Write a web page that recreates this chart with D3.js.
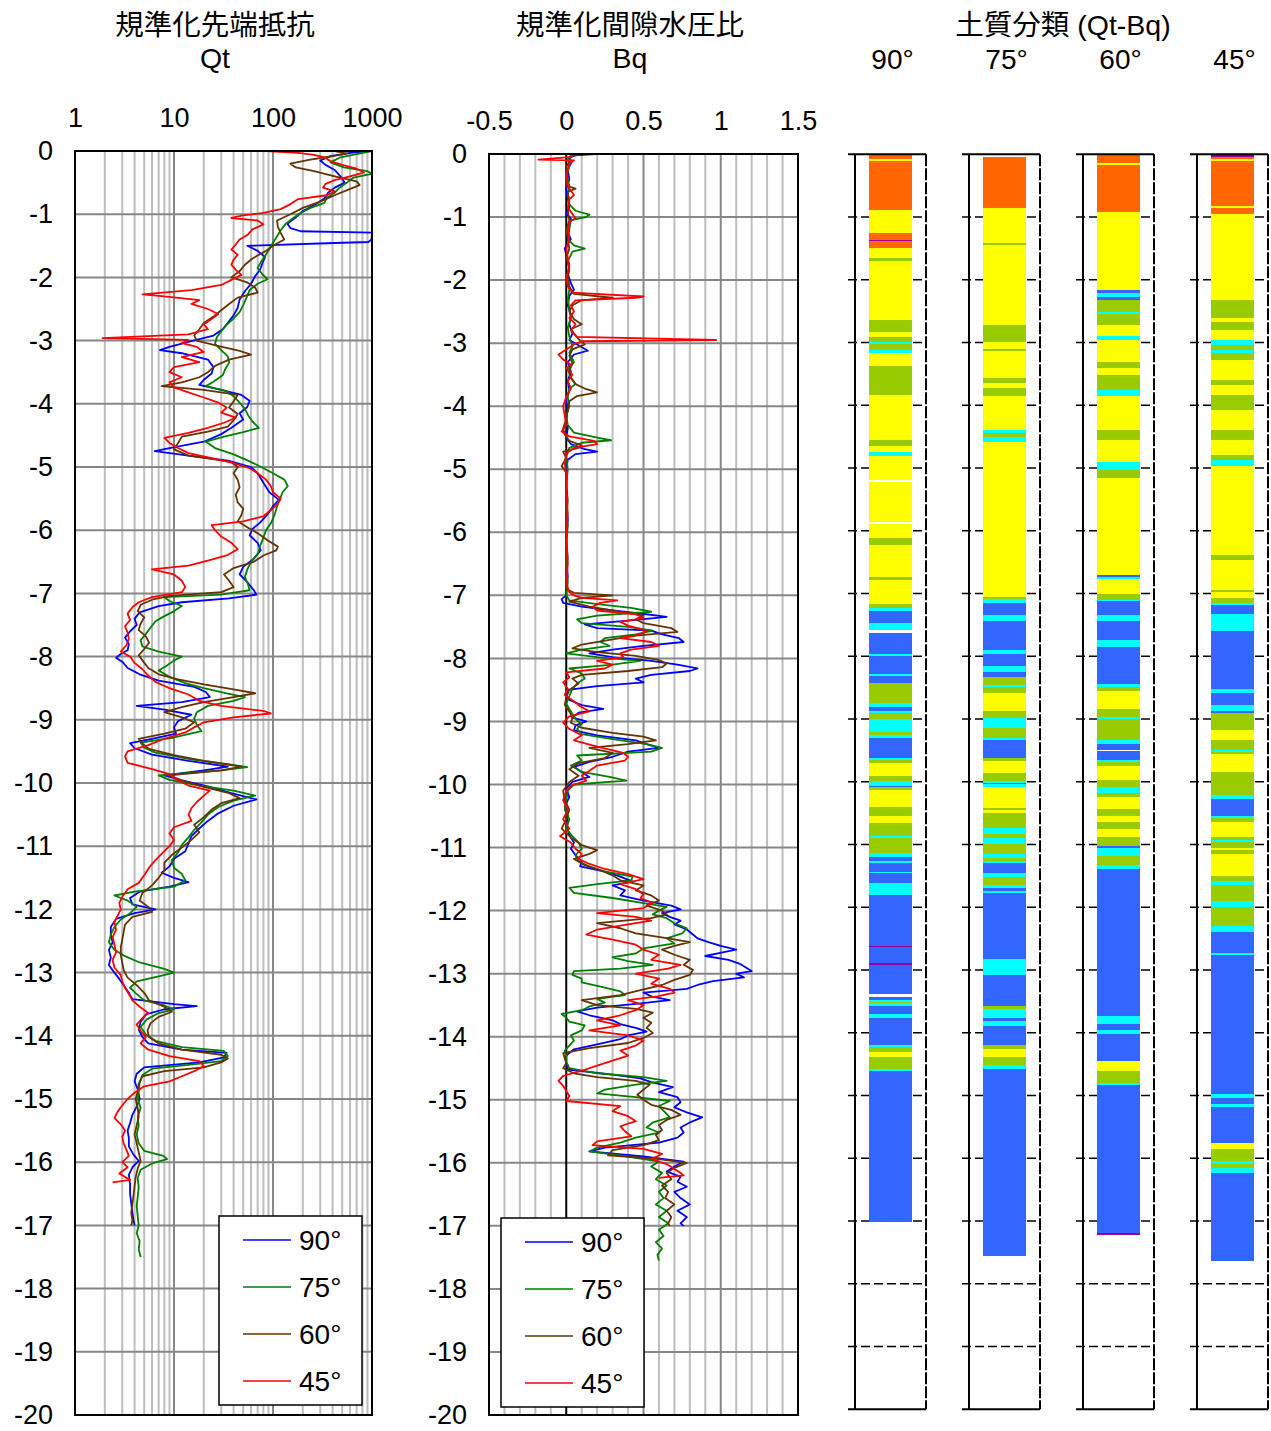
<!DOCTYPE html>
<html>
<head>
<meta charset="utf-8">
<script src="https://cdn.jsdelivr.net/npm/d3@7"></script>
<style>
  body { margin: 0; background: #fff; }
  text { font-family: "Liberation Sans", Arial, "Noto Sans CJK JP", sans-serif; fill: #000; }
</style>
</head>
<body>
<svg id="chart" width="1271" height="1431"></svg>
<script>
// ---- series ----
const seriesNames = ["90°", "75°", "60°", "45°"];
const seriesColors = ["#0000FF", "#008000", "#663300", "#FF0000"];

// depth (m, positive downward), normalized cone resistance Qt
const qt90 = [[0.00,950],[0.03,600],[0.08,380],[0.15,300],[0.22,340],[0.30,420],[0.40,480],[0.50,530],[0.58,420],[0.66,360],[0.75,330],[0.85,265],[0.95,200],[1.05,170],[1.15,140],[1.22,150],[1.27,190],[1.29,1000],[1.40,990],[1.44,920],[1.46,350],[1.50,55],[1.58,70],[1.68,83],[1.78,78],[1.88,74],[1.98,66],[2.10,60],[2.22,52],[2.35,46],[2.48,44],[2.60,40],[2.72,35],[2.82,31],[2.92,25],[3.02,14],[3.10,9],[3.15,7.2],[3.20,12],[3.30,22],[3.42,25],[3.52,24],[3.62,20],[3.70,18],[3.78,30],[3.86,48],[3.95,58],[4.05,55],[4.15,46],[4.25,50],[4.38,38],[4.48,30],[4.60,20],[4.70,9],[4.75,6.4],[4.82,14],[4.90,35],[5.00,60],[5.10,70],[5.25,80],[5.40,92],[5.52,115],[5.62,100],[5.75,88],[5.88,74],[5.98,62],[6.08,58],[6.20,70],[6.32,75],[6.45,64],[6.58,50],[6.70,46],[6.82,55],[6.95,64],[7.02,68],[7.08,36],[7.14,12],[7.20,7],[7.30,4.5],[7.40,4.0],[7.50,4.2],[7.60,3.6],[7.70,3.2],[7.80,3.5],[7.90,3.4],[7.96,2.9],[8.02,2.6],[8.08,3.0],[8.18,3.4],[8.28,4.5],[8.38,7],[8.48,16],[8.56,21],[8.64,23],[8.72,12],[8.78,4.2],[8.84,8],[8.92,15],[9.02,11],[9.12,10],[9.22,10.5],[9.30,6],[9.37,3.6],[9.45,4.0],[9.55,6],[9.65,14],[9.74,35],[9.80,20],[9.88,8],[9.96,12],[10.06,23],[10.16,38],[10.26,68],[10.36,40],[10.48,28],[10.60,22],[10.72,18],[10.84,15],[10.96,14],[11.08,13],[11.20,10],[11.32,9],[11.42,7.5],[11.50,10],[11.57,14],[11.64,9],[11.72,4.5],[11.82,3.6],[11.92,3.8],[12.00,6.5],[12.06,4],[12.15,2.6],[12.28,2.3],[12.40,2.3],[12.52,2.4],[12.64,2.2],[12.76,2.3],[12.88,2.2],[13.00,2.5],[13.10,2.8],[13.20,3.1],[13.32,3.5],[13.42,3.8],[13.50,10],[13.53,17],[13.58,8],[13.66,5.2],[13.78,4.6],[13.90,4.4],[14.02,4.8],[14.12,5.5],[14.22,12],[14.27,34],[14.34,32],[14.42,18],[14.50,5],[14.60,4.2],[14.72,4.0],[14.85,4.3],[15.00,4.5],[15.12,4.2],[15.25,3.8],[15.38,3.6],[15.50,3.4],[15.62,3.5],[15.75,3.5],[15.88,3.9],[15.98,4.4],[16.08,3.8],[16.20,3.5],[16.35,3.6],[16.50,3.6],[16.65,3.7],[16.80,3.8],[16.92,3.9],[17.00,4.0]];
const qt75 = [[0.00,1000],[0.05,700],[0.10,480],[0.18,380],[0.26,520],[0.32,900],[0.36,1000],[0.42,650],[0.50,560],[0.58,470],[0.66,420],[0.74,350],[0.82,330],[0.90,240],[0.98,190],[1.06,160],[1.15,135],[1.25,120],[1.35,110],[1.45,100],[1.55,92],[1.65,84],[1.75,76],[1.85,70],[1.95,78],[2.03,88],[2.10,70],[2.20,58],[2.32,54],[2.44,50],[2.55,46],[2.65,40],[2.75,34],[2.85,30],[2.95,27],[3.05,26],[3.15,30],[3.25,35],[3.35,36],[3.45,33],[3.55,31],[3.65,25],[3.72,21],[3.80,34],[3.88,40],[3.98,46],[4.08,52],[4.18,56],[4.28,62],[4.38,72],[4.45,50],[4.52,32],[4.60,21],[4.70,26],[4.80,40],[4.90,56],[5.00,76],[5.10,100],[5.20,130],[5.30,141],[5.40,125],[5.50,118],[5.62,110],[5.75,104],[5.88,96],[6.00,85],[6.12,80],[6.25,74],[6.38,70],[6.50,60],[6.62,55],[6.74,52],[6.86,56],[6.95,58],[7.02,30],[7.06,8],[7.12,9],[7.20,12],[7.28,10],[7.36,8],[7.44,6.5],[7.54,5.8],[7.64,5.2],[7.74,4.6],[7.84,4.8],[7.92,7],[8.00,12],[8.06,10],[8.14,8.5],[8.22,7],[8.32,9],[8.42,13],[8.50,20],[8.58,34],[8.64,52],[8.70,40],[8.78,22],[8.88,17],[8.98,16],[9.08,17],[9.18,19],[9.28,10],[9.36,4.6],[9.44,5],[9.52,6.5],[9.62,14],[9.70,35],[9.75,55],[9.80,30],[9.88,7],[9.95,9],[10.04,18],[10.12,40],[10.20,66],[10.28,40],[10.38,28],[10.50,22],[10.62,19],[10.74,16],[10.86,14],[10.98,12],[11.10,11],[11.22,9.5],[11.34,10],[11.44,12],[11.54,13],[11.64,10],[11.72,4],[11.78,2.5],[11.86,3.4],[11.96,4.2],[12.06,3.6],[12.16,2.9],[12.28,2.5],[12.40,2.3],[12.52,2.2],[12.64,2.5],[12.74,3.2],[12.84,4.5],[12.94,8],[13.00,10],[13.06,7],[13.14,4.2],[13.24,3.6],[13.34,4.2],[13.44,5],[13.52,8],[13.58,10],[13.64,7],[13.74,5.3],[13.86,4.6],[13.98,5.2],[14.08,6.5],[14.18,12],[14.24,32],[14.32,35],[14.40,30],[14.46,14],[14.52,6],[14.62,4.8],[14.74,4.5],[14.88,4.4],[15.00,4.3],[15.14,4.6],[15.28,4.3],[15.42,4.4],[15.56,4.2],[15.70,4.4],[15.82,5],[15.90,7.8],[15.95,8.5],[16.02,6],[16.12,4.6],[16.25,4.3],[16.40,4.4],[16.55,4.3],[16.70,4.2],[16.85,4.3],[17.00,4.4],[17.12,4.2],[17.25,4.5],[17.38,4.4],[17.50,4.6]];
const qt60 = [[0.00,420],[0.04,560],[0.08,400],[0.14,230],[0.20,150],[0.26,170],[0.32,260],[0.40,420],[0.48,700],[0.54,750],[0.62,560],[0.70,420],[0.80,300],[0.90,200],[1.00,150],[1.10,110],[1.20,112],[1.30,120],[1.40,130],[1.48,105],[1.58,85],[1.70,62],[1.80,52],[1.90,46],[2.00,38],[2.08,55],[2.16,66],[2.24,70],[2.32,44],[2.42,36],[2.52,30],[2.62,25],[2.72,20],[2.82,18],[2.92,16],[3.00,17],[3.08,27],[3.16,45],[3.22,60],[3.30,36],[3.40,26],[3.50,22],[3.58,18],[3.66,12],[3.72,7.5],[3.78,20],[3.86,44],[3.96,40],[4.06,36],[4.16,44],[4.26,40],[4.36,35],[4.44,22],[4.52,12],[4.62,11],[4.72,10],[4.82,14],[4.92,38],[5.00,44],[5.10,40],[5.20,44],[5.32,46],[5.44,42],[5.56,44],[5.66,50],[5.76,48],[5.86,44],[5.96,56],[6.06,72],[6.16,88],[6.26,112],[6.32,108],[6.40,80],[6.50,64],[6.60,40],[6.70,32],[6.80,36],[6.90,40],[6.98,30],[7.04,9],[7.10,6],[7.18,4.6],[7.28,4.3],[7.38,5],[7.48,4.6],[7.58,4.4],[7.68,5.2],[7.78,5.6],[7.88,5],[7.98,4.4],[8.08,4.9],[8.18,5.5],[8.28,7],[8.36,11],[8.44,20],[8.52,40],[8.58,66],[8.64,40],[8.72,20],[8.80,12],[8.88,8],[8.96,12],[9.04,16],[9.14,13],[9.22,8],[9.30,4.4],[9.38,4.8],[9.46,5.6],[9.56,10],[9.66,22],[9.74,48],[9.80,30],[9.88,9],[9.96,12],[10.06,20],[10.16,36],[10.24,46],[10.32,30],[10.42,24],[10.54,20],[10.66,16],[10.78,18],[10.90,15],[11.02,12],[11.14,9.5],[11.26,8],[11.38,8],[11.50,7],[11.62,6],[11.74,4.8],[11.86,4.5],[11.96,5.5],[12.04,6],[12.12,3.8],[12.24,3.2],[12.36,3.1],[12.48,3.0],[12.60,2.9],[12.72,2.9],[12.84,3.0],[12.96,3.1],[13.08,3.4],[13.20,4.2],[13.32,5],[13.44,5.6],[13.54,8],[13.62,9.5],[13.70,7],[13.80,5.8],[13.92,5.4],[14.02,5.6],[14.12,7],[14.22,12],[14.30,30],[14.36,35],[14.42,30],[14.50,20],[14.56,8],[14.64,4.8],[14.76,4.4],[14.88,4.3],[15.00,4.1],[15.14,4.3],[15.28,4.4],[15.42,4.2],[15.56,4.0],[15.70,4.2],[15.84,4.4],[15.98,4.6],[16.10,4.3],[16.24,4.1],[16.38,4.0],[16.52,3.9],[16.66,3.8],[16.80,3.7],[16.92,3.8],[17.00,3.7]];
const qt45 = [[0.00,85],[0.03,180],[0.06,260],[0.10,330],[0.16,380],[0.22,500],[0.28,700],[0.34,830],[0.40,600],[0.46,420],[0.52,340],[0.58,320],[0.64,420],[0.70,350],[0.76,180],[0.84,150],[0.92,120],[0.98,80],[1.02,50],[1.06,38],[1.10,70],[1.16,80],[1.24,62],[1.32,56],[1.40,46],[1.48,42],[1.56,38],[1.64,44],[1.72,40],[1.80,38],[1.88,42],[1.96,48],[2.04,38],[2.12,30],[2.20,15],[2.27,4.8],[2.30,8],[2.36,18],[2.42,15],[2.50,22],[2.58,28],[2.66,24],[2.74,20],[2.82,22],[2.90,14],[2.96,1.9],[2.99,14],[3.04,12],[3.10,17],[3.18,20],[3.26,12],[3.34,18],[3.42,10],[3.50,9],[3.58,12],[3.66,9],[3.74,10],[3.82,14],[3.90,20],[3.98,28],[4.06,34],[4.14,30],[4.22,42],[4.30,32],[4.38,22],[4.46,14],[4.54,8],[4.62,9],[4.70,11],[4.78,14],[4.86,24],[4.94,40],[5.02,58],[5.10,70],[5.20,85],[5.30,95],[5.40,100],[5.50,120],[5.60,110],[5.70,92],[5.78,80],[5.86,50],[5.92,24],[6.00,26],[6.10,30],[6.20,38],[6.30,44],[6.40,34],[6.48,22],[6.56,14],[6.62,6],[6.70,10],[6.80,12],[6.90,13],[6.98,12],[7.06,6],[7.14,4.4],[7.22,3.8],[7.32,3.4],[7.42,3.6],[7.52,3.2],[7.62,3.4],[7.72,3.5],[7.82,3.3],[7.92,2.9],[8.00,3.6],[8.10,4],[8.20,4.8],[8.30,5.5],[8.40,6.5],[8.50,9],[8.60,14],[8.70,18],[8.78,30],[8.86,80],[8.90,95],[8.96,40],[9.04,20],[9.12,16],[9.20,13],[9.30,8],[9.40,5.5],[9.50,3.4],[9.58,3.2],[9.68,3.4],[9.78,6],[9.86,9],[9.96,11],[10.04,14],[10.12,23],[10.20,20],[10.30,17],[10.40,15],[10.50,14],[10.60,15],[10.70,10],[10.80,9],[10.90,10],[11.00,9],[11.12,7.5],[11.22,6.5],[11.34,5.6],[11.46,5],[11.58,4.4],[11.68,3.4],[11.80,3.0],[11.90,2.8],[12.00,2.9],[12.10,2.7],[12.20,2.5],[12.32,2.6],[12.44,2.4],[12.56,2.5],[12.68,2.6],[12.80,2.4],[12.92,2.5],[13.04,2.9],[13.14,3.0],[13.24,3.2],[13.34,3.5],[13.44,3.8],[13.54,4.5],[13.64,5.5],[13.72,4.8],[13.82,4.2],[13.92,4.6],[14.02,5.2],[14.12,4.6],[14.22,5.5],[14.32,9],[14.40,18],[14.48,20],[14.56,16],[14.64,12],[14.72,9],[14.80,5],[14.90,4],[15.00,3.4],[15.10,3.0],[15.20,2.7],[15.30,2.5],[15.40,2.9],[15.50,3.2],[15.60,3.0],[15.70,3.1],[15.80,3.3],[15.90,3.5],[16.00,3.0],[16.08,3.4],[16.18,2.8],[16.28,3.6],[16.32,2.4]];

// depth (m), pore pressure ratio Bq
const bq90 = [[0.00,0.19],[0.02,0.06],[0.06,0.02],[0.15,0.03],[0.25,0.01],[0.40,0.02],[0.55,0.0],[0.70,0.01],[0.85,0.02],[0.95,0.0],[1.02,0.03],[1.10,0.02],[1.25,0.01],[1.35,0.03],[1.50,-0.01],[1.60,0.0],[1.75,0.02],[1.90,0.01],[2.05,0.03],[2.15,0.05],[2.25,0.02],[2.40,0.01],[2.55,0.03],[2.70,0.02],[2.85,0.04],[2.95,0.02],[3.05,0.09],[3.12,0.14],[3.18,0.05],[3.30,0.01],[3.45,0.03],[3.60,0.01],[3.75,0.02],[3.90,0.0],[4.05,0.01],[4.20,0.0],[4.35,0.01],[4.50,0.0],[4.60,0.03],[4.68,0.12],[4.72,0.2],[4.76,0.06],[4.85,0.01],[5.00,0.0],[5.20,0.0],[5.50,0.0],[5.80,0.01],[6.10,0.0],[6.40,0.0],[6.70,0.01],[6.90,0.0],[7.00,0.0],[7.06,-0.03],[7.12,-0.02],[7.18,0.1],[7.24,0.3],[7.30,0.52],[7.34,0.65],[7.40,0.4],[7.46,0.12],[7.52,0.2],[7.56,0.55],[7.62,0.62],[7.68,0.73],[7.74,0.76],[7.80,0.5],[7.86,0.3],[7.92,0.15],[7.98,0.3],[8.04,0.55],[8.10,0.72],[8.16,0.85],[8.20,0.8],[8.26,0.55],[8.32,0.45],[8.38,0.5],[8.44,0.2],[8.50,0.01],[8.58,0.0],[8.66,0.02],[8.74,0.1],[8.80,0.24],[8.86,0.08],[8.94,0.04],[9.00,0.13],[9.06,0.06],[9.14,0.05],[9.22,0.2],[9.30,0.45],[9.36,0.52],[9.42,0.6],[9.48,0.4],[9.56,0.3],[9.64,0.15],[9.72,0.05],[9.80,0.1],[9.88,0.15],[9.96,0.04],[10.06,0.0],[10.20,0.02],[10.35,-0.01],[10.50,0.01],[10.65,0.0],[10.80,0.02],[10.92,0.05],[11.02,0.03],[11.12,0.06],[11.22,0.1],[11.30,0.09],[11.38,0.25],[11.46,0.35],[11.54,0.43],[11.60,0.3],[11.68,0.38],[11.76,0.35],[11.84,0.5],[11.92,0.68],[11.98,0.74],[12.04,0.62],[12.10,0.67],[12.16,0.74],[12.22,0.7],[12.30,0.78],[12.38,0.82],[12.44,0.85],[12.50,0.92],[12.56,1.0],[12.62,1.1],[12.66,1.02],[12.72,0.9],[12.78,1.05],[12.84,1.12],[12.90,1.16],[12.96,1.2],[13.00,1.1],[13.06,1.15],[13.12,0.95],[13.18,0.85],[13.24,0.78],[13.30,0.5],[13.36,0.55],[13.42,0.67],[13.48,0.45],[13.54,0.2],[13.60,0.07],[13.66,0.15],[13.74,0.3],[13.80,0.35],[13.86,0.45],[13.92,0.52],[13.98,0.4],[14.04,0.35],[14.12,0.2],[14.20,0.05],[14.30,0.0],[14.40,0.0],[14.52,0.01],[14.60,0.3],[14.66,0.48],[14.72,0.55],[14.80,0.69],[14.88,0.6],[14.96,0.72],[15.04,0.74],[15.12,0.7],[15.20,0.78],[15.28,0.88],[15.36,0.8],[15.44,0.74],[15.52,0.76],[15.60,0.72],[15.68,0.6],[15.76,0.25],[15.82,0.15],[15.90,0.5],[15.98,0.76],[16.06,0.7],[16.14,0.65],[16.22,0.74],[16.30,0.72],[16.38,0.78],[16.46,0.7],[16.56,0.74],[16.66,0.8],[16.76,0.72],[16.86,0.78],[16.96,0.74],[17.00,0.76]];
const bq75 = [[0.00,0.1],[0.03,0.04],[0.08,0.01],[0.20,0.02],[0.35,0.0],[0.50,0.02],[0.65,0.01],[0.80,0.02],[0.90,0.06],[0.96,0.15],[1.00,0.13],[1.05,0.03],[1.20,0.02],[1.35,0.01],[1.45,0.05],[1.50,0.12],[1.55,0.04],[1.70,0.01],[1.85,0.02],[2.00,0.0],[2.15,0.02],[2.30,0.01],[2.45,0.02],[2.60,0.03],[2.75,0.01],[2.90,0.02],[3.05,0.04],[3.15,0.02],[3.30,0.05],[3.42,0.01],[3.55,0.03],[3.65,0.06],[3.72,0.02],[3.85,0.01],[4.00,0.02],[4.15,0.0],[4.30,0.01],[4.42,0.05],[4.50,0.2],[4.54,0.29],[4.58,0.1],[4.66,0.02],[4.80,0.0],[5.00,0.01],[5.30,0.0],[5.60,0.0],[5.90,0.01],[6.20,0.0],[6.50,0.0],[6.80,0.01],[7.00,0.0],[7.08,0.02],[7.14,0.2],[7.20,0.42],[7.26,0.55],[7.32,0.2],[7.38,0.07],[7.44,0.1],[7.50,0.4],[7.56,0.56],[7.62,0.45],[7.68,0.25],[7.74,0.22],[7.80,0.28],[7.86,0.1],[7.92,0.0],[7.98,0.2],[8.04,0.48],[8.10,0.3],[8.16,0.02],[8.24,0.1],[8.32,0.12],[8.40,0.07],[8.48,0.04],[8.60,0.02],[8.72,0.0],[8.84,0.03],[8.96,0.06],[9.04,0.1],[9.12,0.07],[9.20,0.1],[9.28,0.3],[9.36,0.52],[9.42,0.62],[9.48,0.55],[9.54,0.07],[9.62,0.1],[9.70,0.03],[9.80,0.1],[9.88,0.28],[9.94,0.39],[10.00,0.05],[10.10,0.01],[10.25,0.0],[10.40,-0.01],[10.55,0.02],[10.70,0.0],[10.82,0.04],[10.92,0.08],[11.02,0.1],[11.12,0.06],[11.22,0.08],[11.30,0.15],[11.38,0.25],[11.46,0.43],[11.52,0.42],[11.58,0.2],[11.64,0.02],[11.72,0.05],[11.80,0.3],[11.88,0.5],[11.94,0.65],[12.00,0.6],[12.06,0.56],[12.12,0.65],[12.20,0.7],[12.28,0.78],[12.36,0.75],[12.44,0.65],[12.52,0.7],[12.60,0.5],[12.68,0.45],[12.74,0.3],[12.80,0.4],[12.86,0.56],[12.92,0.35],[12.96,0.05],[13.02,0.04],[13.08,0.1],[13.14,0.1],[13.22,0.25],[13.28,0.35],[13.34,0.38],[13.40,0.2],[13.46,0.25],[13.52,0.15],[13.58,0.1],[13.64,-0.03],[13.70,0.0],[13.76,0.02],[13.82,0.12],[13.90,0.1],[13.98,0.03],[14.06,0.05],[14.14,0.02],[14.22,-0.01],[14.30,0.0],[14.40,0.0],[14.50,0.02],[14.58,0.2],[14.64,0.5],[14.70,0.65],[14.76,0.45],[14.84,0.25],[14.90,0.2],[14.96,0.45],[15.02,0.67],[15.10,0.6],[15.20,0.64],[15.28,0.67],[15.36,0.56],[15.44,0.52],[15.52,0.6],[15.60,0.45],[15.68,0.35],[15.76,0.2],[15.82,0.15],[15.90,0.4],[15.98,0.6],[16.06,0.55],[16.16,0.62],[16.26,0.58],[16.36,0.65],[16.46,0.6],[16.56,0.63],[16.66,0.58],[16.76,0.65],[16.86,0.6],[16.96,0.66],[17.06,0.6],[17.16,0.63],[17.26,0.58],[17.36,0.62],[17.46,0.59],[17.55,0.6]];
const bq60 = [[0.00,0.08],[0.04,0.02],[0.10,0.03],[0.20,0.0],[0.35,0.01],[0.50,0.0],[0.55,0.06],[0.60,0.01],[0.75,0.02],[0.90,0.01],[1.05,0.02],[1.20,0.0],[1.35,0.01],[1.50,0.02],[1.65,0.0],[1.80,0.02],[1.95,0.01],[2.10,0.02],[2.22,0.05],[2.28,0.3],[2.32,0.1],[2.40,0.04],[2.50,0.02],[2.62,0.05],[2.70,0.1],[2.78,0.03],[2.88,0.06],[2.96,0.09],[3.02,0.12],[3.10,0.04],[3.20,0.02],[3.32,0.04],[3.44,0.02],[3.55,0.03],[3.65,0.06],[3.72,0.12],[3.78,0.2],[3.84,0.07],[3.92,0.02],[4.05,0.01],[4.20,0.0],[4.35,-0.02],[4.45,-0.01],[4.55,0.02],[4.62,0.1],[4.66,0.08],[4.72,-0.02],[4.82,0.0],[4.95,-0.03],[5.05,0.0],[5.20,0.0],[5.50,0.01],[5.80,0.0],[6.10,0.0],[6.40,0.01],[6.70,0.0],[6.90,0.0],[6.96,0.05],[7.00,0.3],[7.04,0.1],[7.10,0.02],[7.18,0.15],[7.24,0.3],[7.32,0.5],[7.38,0.45],[7.44,0.5],[7.52,0.68],[7.58,0.72],[7.64,0.45],[7.70,0.3],[7.78,0.1],[7.84,0.04],[7.90,0.2],[7.96,0.45],[8.02,0.59],[8.08,0.65],[8.14,0.62],[8.20,0.4],[8.26,0.1],[8.32,0.04],[8.40,0.08],[8.50,0.02],[8.62,0.0],[8.74,-0.01],[8.84,0.02],[8.94,0.04],[9.02,0.03],[9.10,0.1],[9.18,0.3],[9.24,0.5],[9.30,0.58],[9.36,0.4],[9.42,0.15],[9.50,0.3],[9.58,0.25],[9.66,0.08],[9.76,0.02],[9.86,0.08],[9.96,0.02],[10.10,-0.02],[10.25,-0.01],[10.40,0.02],[10.55,0.0],[10.70,-0.03],[10.84,0.03],[10.96,0.1],[11.04,0.2],[11.10,0.15],[11.18,0.05],[11.28,0.12],[11.36,0.22],[11.44,0.3],[11.52,0.35],[11.60,0.5],[11.68,0.45],[11.76,0.55],[11.84,0.6],[11.92,0.52],[12.00,0.62],[12.06,0.65],[12.12,0.55],[12.20,0.2],[12.28,0.35],[12.36,0.45],[12.44,0.66],[12.50,0.8],[12.56,0.7],[12.62,0.62],[12.70,0.7],[12.78,0.8],[12.86,0.76],[12.94,0.82],[13.02,0.8],[13.10,0.7],[13.18,0.62],[13.26,0.48],[13.34,0.35],[13.42,0.1],[13.50,0.2],[13.56,0.45],[13.62,0.56],[13.70,0.5],[13.78,0.55],[13.86,0.52],[13.94,0.56],[14.02,0.5],[14.10,0.4],[14.18,0.15],[14.26,-0.02],[14.34,-0.01],[14.42,0.0],[14.50,-0.02],[14.58,0.05],[14.64,0.2],[14.70,0.45],[14.76,0.54],[14.84,0.5],[14.92,0.46],[15.00,0.5],[15.08,0.55],[15.16,0.68],[15.24,0.74],[15.32,0.65],[15.40,0.6],[15.48,0.62],[15.56,0.58],[15.64,0.6],[15.72,0.5],[15.80,0.3],[15.88,0.27],[15.94,0.6],[16.00,0.78],[16.08,0.7],[16.16,0.65],[16.26,0.68],[16.36,0.62],[16.46,0.66],[16.56,0.64],[16.66,0.7],[16.76,0.65],[16.86,0.68],[16.96,0.66],[17.00,0.67]];
const bq45 = [[0.00,0.05],[0.05,0.02],[0.09,-0.18],[0.10,0.05],[0.16,0.02],[0.25,0.01],[0.40,0.0],[0.55,0.02],[0.65,0.05],[0.72,0.02],[0.85,0.01],[0.95,0.04],[1.02,0.06],[1.08,0.02],[1.20,0.01],[1.35,0.02],[1.50,0.0],[1.65,0.01],[1.80,0.02],[1.95,0.0],[2.10,0.01],[2.20,0.04],[2.26,0.5],[2.28,0.45],[2.32,0.06],[2.40,0.03],[2.50,0.05],[2.60,0.02],[2.70,0.06],[2.80,0.03],[2.90,0.07],[2.95,0.97],[2.97,0.1],[3.02,0.05],[3.10,0.0],[3.18,-0.05],[3.26,-0.02],[3.34,0.03],[3.40,0.0],[3.50,0.04],[3.60,0.01],[3.72,0.03],[3.85,0.0],[4.00,-0.02],[4.15,-0.01],[4.30,0.0],[4.40,-0.03],[4.48,0.02],[4.55,0.18],[4.60,0.2],[4.66,0.05],[4.75,0.0],[4.90,-0.01],[5.10,0.0],[5.40,0.0],[5.70,0.01],[6.00,0.0],[6.20,0.0],[6.50,0.01],[6.80,0.0],[6.95,0.02],[7.00,0.05],[7.04,0.1],[7.08,0.33],[7.12,0.22],[7.18,0.17],[7.24,0.2],[7.30,0.45],[7.36,0.5],[7.42,0.35],[7.48,0.4],[7.56,0.52],[7.62,0.48],[7.68,0.35],[7.74,0.55],[7.80,0.6],[7.86,0.42],[7.92,0.35],[7.98,0.37],[8.04,0.2],[8.10,0.3],[8.16,0.25],[8.22,0.0],[8.30,0.02],[8.38,-0.02],[8.48,0.01],[8.58,-0.01],[8.68,0.05],[8.76,0.09],[8.84,0.15],[8.92,0.02],[9.02,-0.02],[9.12,0.02],[9.22,0.1],[9.30,0.05],[9.40,0.2],[9.50,0.37],[9.56,0.4],[9.62,0.38],[9.70,0.2],[9.78,0.15],[9.86,0.1],[9.94,0.13],[10.02,0.03],[10.10,0.0],[10.25,-0.02],[10.40,0.01],[10.55,-0.02],[10.70,0.02],[10.82,-0.04],[10.92,0.03],[11.02,0.06],[11.10,0.1],[11.18,0.08],[11.26,0.15],[11.34,0.25],[11.42,0.4],[11.50,0.5],[11.58,0.35],[11.66,0.45],[11.74,0.5],[11.80,0.48],[11.88,0.56],[11.96,0.5],[12.04,0.2],[12.10,0.45],[12.16,0.55],[12.22,0.4],[12.30,0.2],[12.38,0.13],[12.46,0.3],[12.54,0.45],[12.62,0.5],[12.70,0.6],[12.78,0.55],[12.86,0.74],[12.92,0.66],[13.00,0.45],[13.08,0.6],[13.16,0.55],[13.24,0.67],[13.30,0.7],[13.36,0.59],[13.42,0.4],[13.50,0.5],[13.58,0.45],[13.66,0.35],[13.74,0.2],[13.82,0.35],[13.90,0.15],[13.98,0.4],[14.06,0.5],[14.14,0.45],[14.22,0.35],[14.30,0.4],[14.38,0.3],[14.46,0.2],[14.54,0.1],[14.62,-0.02],[14.70,-0.05],[14.78,-0.02],[14.86,0.0],[14.94,0.02],[15.02,0.0],[15.10,0.35],[15.18,0.3],[15.26,0.4],[15.34,0.45],[15.42,0.35],[15.50,0.38],[15.58,0.42],[15.66,0.2],[15.72,0.17],[15.78,0.5],[15.86,0.62],[15.94,0.55],[16.02,0.65],[16.10,0.7],[16.16,0.74],[16.20,0.76],[16.24,0.6]];

// soil classification bands: [top depth, bottom depth, zone]
const soil90 = [[0.00,0.02,2],[0.02,0.08,7],[0.08,0.11,6],[0.11,0.89,7],[0.89,1.26,6],[1.26,1.37,7],[1.37,1.39,2],[1.39,1.49,7],[1.49,1.65,6],[1.65,1.70,5],[1.70,2.64,6],[2.64,2.83,5],[2.83,2.91,6],[2.91,2.99,5],[2.99,3.02,4],[3.02,3.12,5],[3.12,3.17,4],[3.17,3.37,6],[3.37,3.84,5],[3.84,4.55,6],[4.55,4.65,5],[4.65,4.75,6],[4.75,4.81,4],[4.81,5.19,6],[5.22,5.86,6],[5.89,6.11,6],[6.11,6.22,5],[6.22,6.74,6],[6.74,6.79,5],[6.79,7.17,6],[7.17,7.23,5],[7.23,7.28,4],[7.28,7.47,3],[7.47,7.58,4],[7.63,7.96,3],[7.96,8.00,4],[8.00,8.28,3],[8.28,8.31,4],[8.31,8.43,3],[8.43,8.75,5],[8.75,8.81,4],[8.81,8.87,3],[8.87,8.90,4],[8.90,9.00,5],[9.00,9.21,4],[9.21,9.26,5],[9.26,9.30,4],[9.30,9.62,3],[9.62,9.65,4],[9.65,9.70,5],[9.70,9.91,6],[9.91,9.99,5],[9.99,10.07,4],[10.07,10.08,3],[10.08,10.13,5],[10.13,10.40,6],[10.40,10.55,5],[10.55,10.66,6],[10.66,10.86,5],[10.86,10.90,4],[10.90,11.14,5],[11.14,11.20,4],[11.20,11.27,3],[11.27,11.30,4],[11.30,11.44,3],[11.44,11.46,4],[11.46,11.61,3],[11.61,11.80,4],[11.80,12.62,3],[12.62,12.64,2],[12.64,12.89,3],[12.89,12.92,2],[12.92,13.38,3],[13.43,13.48,3],[13.48,13.51,4],[13.51,13.53,5],[13.53,13.57,4],[13.57,13.70,3],[13.70,13.76,4],[13.76,14.20,3],[14.20,14.23,4],[14.23,14.30,5],[14.30,14.39,6],[14.39,14.58,5],[14.58,14.61,4],[14.61,17.02,3]];
const soil75 = [[0.04,0.86,7],[0.86,1.42,6],[1.42,1.45,5],[1.45,2.72,6],[2.72,2.99,5],[2.99,3.10,6],[3.10,3.14,5],[3.14,3.56,6],[3.56,3.65,5],[3.65,3.73,6],[3.73,3.85,5],[3.85,4.40,6],[4.40,4.44,4],[4.44,4.51,5],[4.51,4.59,4],[4.59,7.06,6],[7.06,7.09,5],[7.09,7.15,4],[7.15,7.34,3],[7.34,7.44,4],[7.44,7.90,3],[7.90,7.96,4],[7.96,8.16,3],[8.16,8.25,4],[8.25,8.33,3],[8.33,8.46,5],[8.46,8.49,4],[8.49,8.58,5],[8.58,8.87,6],[8.87,8.98,5],[8.98,9.14,4],[9.14,9.30,5],[9.30,9.33,4],[9.33,9.62,3],[9.62,9.67,5],[9.67,9.86,6],[9.86,9.99,5],[9.99,10.02,4],[10.02,10.04,3],[10.04,10.08,4],[10.08,10.42,6],[10.42,10.45,5],[10.45,10.50,6],[10.50,10.74,5],[10.74,10.83,4],[10.83,10.90,5],[10.90,10.99,4],[10.99,11.15,5],[11.15,11.22,4],[11.22,11.26,5],[11.26,11.30,4],[11.30,11.46,3],[11.46,11.52,4],[11.52,11.65,5],[11.65,11.69,4],[11.69,11.74,3],[11.74,11.77,4],[11.77,12.83,3],[12.83,13.08,4],[13.08,13.57,3],[13.57,13.62,5],[13.62,13.77,4],[13.77,13.81,3],[13.81,13.89,4],[13.89,14.20,3],[14.20,14.26,5],[14.26,14.39,6],[14.39,14.51,5],[14.51,14.58,4],[14.58,17.56,3]];
const soil60 = [[0.00,0.14,7],[0.14,0.17,6],[0.17,0.92,7],[0.92,2.16,6],[2.16,2.21,3],[2.21,2.28,4],[2.28,2.32,3],[2.32,2.51,5],[2.51,2.55,4],[2.55,2.72,5],[2.72,2.90,6],[2.90,2.96,4],[2.96,3.31,6],[3.31,3.41,5],[3.41,3.52,6],[3.52,3.76,5],[3.76,3.86,4],[3.86,4.40,6],[4.40,4.56,5],[4.56,4.90,6],[4.90,5.03,4],[5.03,5.16,5],[5.16,6.70,6],[6.70,6.73,3],[6.73,6.77,4],[6.77,7.01,6],[7.01,7.10,5],[7.10,7.12,4],[7.12,7.34,3],[7.34,7.44,4],[7.44,7.74,3],[7.74,7.85,4],[7.85,8.44,3],[8.44,8.49,4],[8.49,8.55,5],[8.55,8.84,6],[8.84,8.97,5],[8.97,9.00,4],[9.00,9.33,5],[9.33,9.40,4],[9.40,9.49,3],[9.51,9.65,3],[9.65,9.69,4],[9.69,9.75,5],[9.75,9.97,6],[9.97,10.08,5],[10.08,10.18,4],[10.18,10.24,5],[10.24,10.43,6],[10.43,10.55,5],[10.55,10.64,6],[10.64,10.75,5],[10.75,10.88,6],[10.88,11.02,5],[11.02,11.06,3],[11.06,11.18,4],[11.18,11.33,5],[11.33,11.39,4],[11.39,13.73,3],[13.73,13.86,4],[13.86,13.96,3],[13.96,14.02,4],[14.02,14.45,3],[14.45,14.61,6],[14.61,14.80,5],[14.80,14.83,4],[14.83,17.19,3],[17.19,17.22,2]];
const soil45 = [[0.00,0.02,7],[0.02,0.04,2],[0.04,0.08,7],[0.08,0.11,6],[0.11,0.83,7],[0.83,0.86,6],[0.86,0.95,7],[0.95,2.32,6],[2.32,2.61,5],[2.61,2.67,6],[2.67,2.80,5],[2.80,2.96,6],[2.96,3.04,4],[3.04,3.12,5],[3.12,3.17,4],[3.17,3.28,5],[3.28,3.60,6],[3.60,3.68,5],[3.68,3.84,6],[3.84,4.08,5],[4.08,4.40,6],[4.40,4.56,5],[4.56,4.79,6],[4.79,4.87,5],[4.87,4.97,4],[4.97,6.39,6],[6.39,6.47,5],[6.47,6.94,6],[6.94,6.98,5],[6.98,7.07,6],[7.07,7.15,5],[7.15,7.18,4],[7.18,7.33,3],[7.33,7.60,4],[7.60,8.52,3],[8.52,8.59,4],[8.59,8.78,3],[8.78,8.87,4],[8.87,8.90,3],[8.90,9.17,5],[9.17,9.33,6],[9.33,9.49,5],[9.49,9.53,4],[9.53,9.56,5],[9.56,9.84,6],[9.84,10.21,5],[10.21,10.27,4],[10.27,10.54,3],[10.54,10.58,4],[10.58,10.64,5],[10.64,10.88,6],[10.88,10.93,5],[10.93,10.96,4],[10.96,11.05,5],[11.05,11.09,6],[11.09,11.15,5],[11.15,11.50,6],[11.50,11.58,5],[11.58,11.65,4],[11.65,11.90,5],[11.90,12.00,4],[12.00,12.30,5],[12.30,12.39,4],[12.39,12.73,3],[12.73,12.76,4],[12.76,14.98,3],[14.98,15.04,4],[15.04,15.14,3],[15.14,15.19,4],[15.19,15.76,3],[15.76,15.86,6],[15.86,16.04,5],[16.04,16.09,4],[16.09,16.16,5],[16.16,16.23,4],[16.23,17.64,3]];

// zone colours of the Qt-Bq classification
const zoneColors = { 2: "#990099", 3: "#3366FF", 4: "#00FFFF", 5: "#99CC00", 6: "#FFFF00", 7: "#FF6600" };

const qtTickValues = [1, 10, 100, 1000];
const bqTickValues = [-0.5, 0, 0.5, 1, 1.5];
const depthTicks = d3.range(0, 21);

const qtSeries = [qt90, qt75, qt60, qt45];
const bqSeries = [bq90, bq75, bq60, bq45];
const soilSeries = [soil90, soil75, soil60, soil45];

// ---- drawing ----
const svg = d3.select("#chart");
const fmtDepth = d => d === 0 ? "0" : "-" + d;
const MINOR = "#BEBEBE", MAJOR = "#878787";
const GRID_W = 2, LINE_W = 1.8;

function depthAxis(g, y, x0) {
  g.attr("transform", `translate(${x0},0)`)
    .call(d3.axisLeft(y).tickValues(depthTicks).tickFormat(fmtDepth).tickSize(0).tickPadding(22))
    .call(s => s.select(".domain").remove())
    .selectAll("text").attr("font-size", 27).attr("font-family", null);
}

function title(lines, cx) {
  const t = svg.append("g").attr("font-size", 28.5).attr("text-anchor", "middle");
  t.append("text").attr("x", cx).attr("y", 35).text(lines[0]);
  t.append("text").attr("x", cx).attr("y", 68).text(lines[1]);
}

function legend(x0, y0) {
  const g = svg.append("g");
  g.append("rect").attr("x", x0).attr("y", y0).attr("width", 143).attr("height", 189)
    .attr("fill", "#fff").attr("stroke", "#000").attr("stroke-width", 1.5);
  seriesNames.forEach((n, i) => {
    const yy = y0 + 24 + i * 47;
    g.append("line").attr("x1", x0 + 24).attr("x2", x0 + 72).attr("y1", yy).attr("y2", yy)
      .attr("stroke", seriesColors[i]).attr("stroke-width", 1.5);
    g.append("text").attr("x", x0 + 80).attr("y", yy + 10).attr("font-size", 28).text(n);
  });
}

const line = (x, y) => d3.line().x(d => x(d[1])).y(d => y(d[0]));

// ===== Qt panel =====
{
  const x = d3.scaleLog().domain([1, 1000]).range([75, 372]);
  const y = d3.scaleLinear().domain([0, 20]).range([151, 1415]);
  const g = svg.append("g");
  const minor = x.ticks().filter(v => !qtTickValues.includes(v));
  g.selectAll(".vmin").data(minor).join("line")
    .attr("x1", d => x(d)).attr("x2", d => x(d)).attr("y1", y(0)).attr("y2", y(20))
    .attr("stroke", MINOR).attr("stroke-width", GRID_W);
  g.selectAll(".vmaj").data([10, 100]).join("line")
    .attr("x1", d => x(d)).attr("x2", d => x(d)).attr("y1", y(0)).attr("y2", y(20))
    .attr("stroke", MAJOR).attr("stroke-width", GRID_W);
  g.selectAll(".hg").data(depthTicks).join("line")
    .attr("x1", x(1)).attr("x2", x(1000)).attr("y1", d => y(d)).attr("y2", d => y(d))
    .attr("stroke", MAJOR).attr("stroke-width", GRID_W);

  svg.append("clipPath").attr("id", "clipQt").append("rect")
    .attr("x", x(1)).attr("y", y(0)).attr("width", x(1000) - x(1)).attr("height", y(20) - y(0));
  const lg = svg.append("g").attr("clip-path", "url(#clipQt)");
  qtSeries.forEach((s, i) => lg.append("path").attr("d", line(x, y)(s))
    .attr("fill", "none").attr("stroke", seriesColors[i]).attr("stroke-width", LINE_W).attr("stroke-linejoin", "round"));

  svg.append("rect").attr("x", x(1)).attr("y", y(0)).attr("width", x(1000) - x(1)).attr("height", y(20) - y(0))
    .attr("fill", "none").attr("stroke", "#000").attr("stroke-width", 2);

  svg.append("g").attr("transform", `translate(0,${y(0)})`)
    .call(d3.axisTop(x).tickValues(qtTickValues).tickFormat(d3.format("d")).tickSize(0).tickPadding(24))
    .call(s => s.select(".domain").remove())
    .selectAll("text").attr("font-size", 27).attr("font-family", null);
  svg.append("g").call(g2 => depthAxis(g2, y, 75));

  title(["規準化先端抵抗", "Qt"], 215);
  legend(219, 1216);
}

// ===== Bq panel =====
{
  const x = d3.scaleLinear().domain([-0.5, 1.5]).range([489, 798]);
  const y = d3.scaleLinear().domain([0, 20]).range([154, 1415]);
  const g = svg.append("g");
  const vals = d3.range(-4, 15).map(k => k / 10);
  g.selectAll(".vmin").data(vals.filter(v => Math.abs(v * 2 - Math.round(v * 2)) > 1e-6)).join("line")
    .attr("x1", d => x(d)).attr("x2", d => x(d)).attr("y1", y(0)).attr("y2", y(20))
    .attr("stroke", MINOR).attr("stroke-width", GRID_W);
  g.selectAll(".vmaj").data([0.5, 1.0]).join("line")
    .attr("x1", d => x(d)).attr("x2", d => x(d)).attr("y1", y(0)).attr("y2", y(20))
    .attr("stroke", MAJOR).attr("stroke-width", GRID_W);
  g.selectAll(".hg").data(depthTicks).join("line")
    .attr("x1", x(-0.5)).attr("x2", x(1.5)).attr("y1", d => y(d)).attr("y2", d => y(d))
    .attr("stroke", MAJOR).attr("stroke-width", GRID_W);
  g.append("line").attr("x1", x(0)).attr("x2", x(0)).attr("y1", y(0)).attr("y2", y(20))
    .attr("stroke", "#000").attr("stroke-width", 2);

  svg.append("clipPath").attr("id", "clipBq").append("rect")
    .attr("x", x(-0.5)).attr("y", y(0)).attr("width", x(1.5) - x(-0.5)).attr("height", y(20) - y(0));
  const lg = svg.append("g").attr("clip-path", "url(#clipBq)");
  bqSeries.forEach((s, i) => lg.append("path").attr("d", line(x, y)(s))
    .attr("fill", "none").attr("stroke", seriesColors[i]).attr("stroke-width", LINE_W).attr("stroke-linejoin", "round"));

  svg.append("rect").attr("x", x(-0.5)).attr("y", y(0)).attr("width", x(1.5) - x(-0.5)).attr("height", y(20) - y(0))
    .attr("fill", "none").attr("stroke", "#000").attr("stroke-width", 2);

  svg.append("g").attr("transform", `translate(0,${y(0)})`)
    .call(d3.axisTop(x).tickValues(bqTickValues).tickFormat(d => String(d)).tickSize(0).tickPadding(24))
    .call(s => s.select(".domain").remove())
    .selectAll("text").attr("font-size", 27).attr("font-family", null);
  svg.append("g").call(g2 => depthAxis(g2, y, 489));

  title(["規準化間隙水圧比", "Bq"], 630);
  legend(501, 1218);
}

// ===== soil classification columns =====
{
  const y = d3.scaleLinear().domain([0, 20]).range([154.2, 1409.2]);
  const col = d3.scaleBand().domain(seriesNames).range([855, 1268]).paddingInner(0.377).paddingOuter(0);
  const bw = col.bandwidth();
  const barOff = 14, barW = 43;

  svg.append("text").attr("x", 1063).attr("y", 35).attr("font-size", 28.5).attr("text-anchor", "middle")
    .text("土質分類 (Qt-Bq)");

  seriesNames.forEach((n, i) => {
    const x0 = col(n);
    const g = svg.append("g");
    svg.append("text").attr("x", x0 + bw / 2 + 2).attr("y", 69).attr("font-size", 28)
      .attr("text-anchor", "middle").text(n);

    // dashed depth gridlines with ticks
    g.selectAll(".hg").data(depthTicks.slice(1, 20)).join("line")
      .attr("x1", x0 - 7).attr("x2", x0 + bw).attr("y1", d => y(d)).attr("y2", d => y(d))
      .attr("stroke", "#000").attr("stroke-width", 1.5).attr("stroke-dasharray", "9,4");

    g.selectAll(".band").data(soilSeries[i]).join("rect")
      .attr("x", x0 + barOff).attr("width", barW)
      .attr("y", d => y(d[0])).attr("height", d => Math.max(0.8, y(d[1]) - y(d[0])))
      .attr("fill", d => zoneColors[d[2]]).attr("shape-rendering", "crispEdges");

    // frame
    g.append("line").attr("x1", x0).attr("x2", x0).attr("y1", y(0)).attr("y2", y(20))
      .attr("stroke", "#000").attr("stroke-width", 2);
    g.append("line").attr("x1", x0 + bw).attr("x2", x0 + bw).attr("y1", y(0)).attr("y2", y(20))
      .attr("stroke", "#000").attr("stroke-width", 2).attr("stroke-dasharray", "12,2");
    g.append("line").attr("x1", x0 - 7).attr("x2", x0 + bw).attr("y1", y(0)).attr("y2", y(0))
      .attr("stroke", "#000").attr("stroke-width", 2);
    g.append("line").attr("x1", x0 - 7).attr("x2", x0 + bw).attr("y1", y(20)).attr("y2", y(20))
      .attr("stroke", "#000").attr("stroke-width", 2);
  });
}
</script>
</body>
</html>
